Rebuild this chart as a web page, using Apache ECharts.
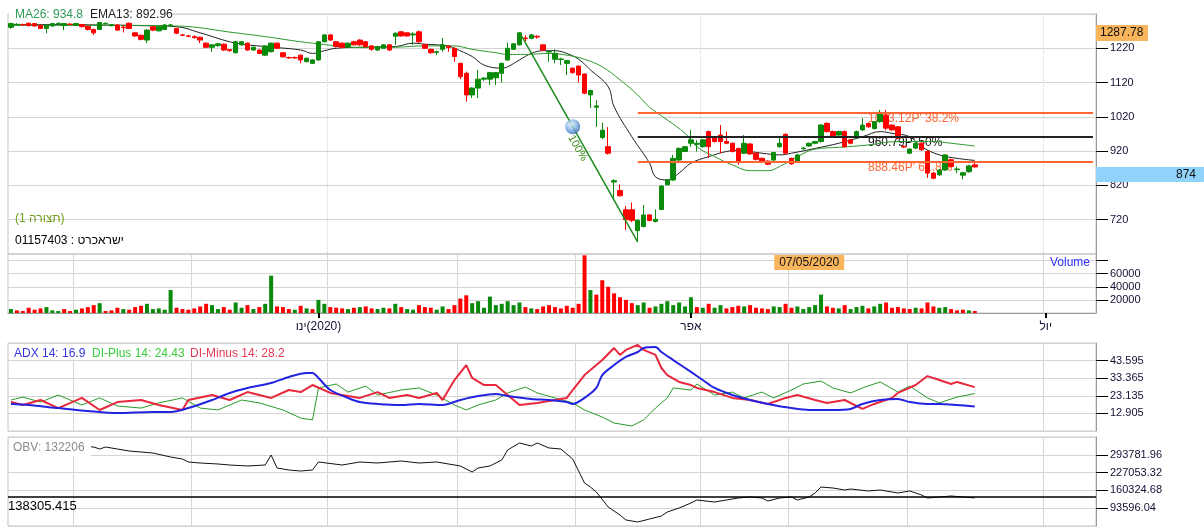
<!DOCTYPE html>
<html><head><meta charset="utf-8">
<script src="https://cdn.jsdelivr.net/npm/echarts/dist/echarts.min.js"></script>
<style>html,body{margin:0;padding:0;background:#fff}#c{width:1204px;height:530px}</style>
</head><body><div id="c"></div>
<script>
// ---------- data ----------
const SLOTS = 184;
const monthTickIdx = [52, 115, 175];
const monthTickHeb = ['ינו', 'אפר', 'יול'];
const monthTickYear = ['(2020)', '', ''];
const monthGridIdx = [11, 31, 54, 76, 96, 117, 132, 152, 175];
const quarterGridIdx = [54, 117, 175];
// [open, close, low, high]
const ohlc = [
[1281,1292,1277,1295],[1289,1290,1286,1293],[1289,1289,1285,1292],[1293,1286,1284,1295],[1292,1285,1283,1294],
[1287,1278,1276,1289],[1278,1287,1264,1289],[1285,1292,1283,1294],[1292,1293,1289,1295],[1286,1292,1273,1294],
[1290,1290,1287,1293],[1287,1292,1285,1294],[1289,1283,1281,1291],[1284,1275,1272,1286],[1275,1265,1259,1277],
[1275,1295,1273,1297],[1292,1293,1289,1295],[1286,1289,1284,1291],[1288,1273,1271,1290],[1282,1280,1266,1288],
[1293,1278,1276,1295],[1265,1256,1253,1267],[1258,1246,1243,1260],[1244,1273,1235,1276],[1283,1273,1270,1285],
[1271,1283,1269,1285],[1275,1288,1273,1290],[1287,1288,1284,1291],[1278,1264,1261,1280],[1259,1258,1255,1262],
[1256,1255,1252,1259],[1254,1251,1248,1258],[1252,1244,1235,1254],[1235,1223,1220,1237],[1223,1230,1210,1232],
[1228,1233,1224,1236],[1232,1215,1212,1234],[1216,1213,1210,1218],[1207,1239,1205,1242],[1230,1239,1228,1241],
[1235,1215,1213,1237],[1215,1223,1213,1225],[1215,1205,1203,1217],[1200,1227,1198,1229],[1210,1235,1208,1237],
[1235,1220,1218,1237],[1207,1195,1193,1209],[1193,1192,1189,1196],[1193,1192,1189,1196],[1200,1186,1176,1202],
[1181,1191,1179,1193],[1176,1186,1174,1188],[1186,1239,1184,1241],[1239,1259,1237,1261],[1259,1244,1242,1261],
[1239,1225,1222,1241],[1235,1223,1220,1237],[1225,1235,1222,1237],[1239,1230,1228,1242],[1244,1230,1227,1246],
[1239,1225,1222,1241],[1227,1217,1213,1229],[1215,1225,1212,1227],[1220,1230,1218,1232],[1230,1215,1212,1232],
[1255,1264,1230,1266],[1268,1256,1254,1270],[1265,1256,1254,1267],[1259,1262,1230,1267],[1268,1239,1236,1272],
[1230,1220,1218,1232],[1217,1207,1204,1219],[1208,1210,1200,1213],[1217,1230,1210,1250],[1226,1222,1210,1228],
[1220,1196,1181,1222],[1176,1137,1130,1178],[1147,1084,1064,1152],[1084,1104,1075,1106],[1104,1130,1075,1157],
[1130,1133,1125,1136],[1130,1149,1113,1151],[1134,1149,1113,1151],[1147,1176,1120,1178],[1186,1220,1183,1236],
[1217,1233,1215,1235],[1230,1265,1228,1267],[1250,1248,1240,1258],[1249,1259,1246,1262],[1255,1253,1248,1258],
[1230,1215,1212,1232],[1209,1211,1181,1213],[1188,1205,1176,1217],[1187,1189,1171,1192],[1176,1184,1142,1186],
[1162,1149,1146,1164],[1168,1142,1120,1170],[1145,1089,1086,1147],[1084,1097,1046,1099],[1048,1052,991,1069],
[960,981,955,1003],[933,914,910,990],[830,834,777,838],[805,790,787,823],[749,720,690,760],
[749,718,713,770],[688,718,656,722],[700,734,698,763],[734,718,715,736],[715,721,712,750],
[750,818,748,821],[822,836,820,838],[836,899,833,909],[894,928,890,931],[919,933,917,935],
[943,953,933,982],[940,943,919,952],[933,953,930,955],[977,933,900,980],[962,948,945,964],
[967,948,914,996],[948,943,940,977],[943,919,916,945],[928,889,880,930],[914,943,912,967],
[941,912,909,943],[914,896,893,916],[899,889,886,901],[891,882,879,893],[894,916,891,918],
[933,943,930,960],[969,914,911,972],[899,883,880,901],[890,909,887,912],[927,929,924,932],
[935,943,932,945],[943,948,940,950],[948,996,945,999],[1001,977,974,1004],[977,962,960,980],
[967,977,964,980],[977,933,930,980],[953,943,940,955],[958,977,955,980],[982,996,979,1016],
[1001,991,988,1003],[986,1006,983,1008],[1006,1032,1003,1040],[1025,987,981,1040],[996,982,979,998],
[991,958,955,993],[934,932,929,937],[914,926,911,928],[929,943,926,946],[943,924,921,946],
[919,856,842,922],[856,841,838,859],[851,865,848,868],[865,909,862,911],[895,875,872,898],
[866,868,856,875],[850,857,838,860],[860,877,857,880],[880,874,872,892]
];
const volume = [
6000,4000,3000,8000,5000,7000,9000,4000,3000,6000,3000,5000,7000,9000,12000,15000,3000,4000,8000,6000,5000,9000,11000,14000,6000,7000,
5000,35000,8000,6000,5000,7000,10000,14000,12000,6000,9000,5000,16000,8000,12000,6000,9000,14000,57000,10000,9000,6000,5000,11000,7000,6000,
20000,14000,9000,8000,7000,6000,8000,9000,10000,7000,6000,8000,7000,14000,9000,6000,5000,12000,9000,8000,5000,10000,6000,12000,22000,27000,
15000,18000,8000,25000,12000,14000,18000,12000,16000,9000,7000,6000,10000,12000,9000,7000,11000,8000,14000,88000,35000,28000,50000,40000,30000,24000,
20000,15000,12000,16000,8000,10000,14000,18000,12000,16000,10000,24000,9000,8000,14000,8000,12000,7000,9000,11000,10000,12000,8000,7000,6000,10000,
9000,14000,8000,10000,6000,9000,12000,28000,10000,8000,7000,12000,6000,9000,11000,7000,10000,14000,16000,8000,9000,7000,6000,8000,7000,16000,10000,8000,9000,6000,4000,5000,4000,3000
];
const ema13 = [[0,1288],[8,1289],[15,1288],[22,1286],[28,1283],[32,1265],[38,1235],[43,1225],[49,1215],[51,1205],[53,1213],[55,1220],[59,1223],
[65,1225],[68,1235],[70,1232],[74,1227],[75,1220],[78,1196],[80,1171],[83,1162],[84,1166],[86,1186],[88,1205],[90,1213],[92,1213],[94,1205],
[96,1188],[98,1157],[101,1108],[102,1050],[105,962],[108,885],[109,845],[111,836],[113,856],[115,885],[118,904],[121,919],[123,922],[127,914],
[130,909],[132,914],[136,928],[140,943],[144,962],[147,977],[149,972],[152,962],[154,933],[157,909],[160,899],[163,892.96]];
const ma26 = [[0,1287],[15,1287],[28,1285],[38,1265],[43,1254],[49,1239],[52,1233],[56,1225],[59,1222],[65,1223],[70,1227],[75,1227],[78,1217],
[82,1207],[84,1202],[87,1202],[91,1205],[94,1200],[97,1188],[100,1166],[103,1128],[106,1084],[108,1048],[111,1011],[114,972],[116,933],[119,904],
[122,880],[125,863],[128,863],[130,875],[133,904],[136,926],[140,931],[145,938],[150,948],[156,948],[159,943],[163,934.8]];
const adx = [[0,18.4],[3,17.8],[8,16.0],[13,14.3],[18,13.1],[24,13.7],[27,13.7],[30,16.0],[34,20.7],[37,24.8],[40,27.7],[44,30.6],[47,34.1],[50,36.4],
[51,36.4],[52,33.5],[54,26.5],[57,21.9],[59,19.5],[62,18.4],[66,17.8],[69,18.4],[73,17.8],[76,20.7],[79,23.0],[82,24.2],[84,23.0],[88,21.3],[91,20.7],
[94,19.5],[95,18.4],[97,21.9],[99,27.7],[100,35.2],[102,41.0],[104,45.7],[106,48.6],[107,50.9],[109,51.5],[110,48.6],[112,43.9],[115,37.0],[117,32.3],
[119,27.7],[122,23.6],[125,20.7],[128,18.4],[132,16.0],[135,14.9],[139,14.9],[142,15.5],[144,18.4],[147,20.7],[150,21.3],[152,19.5],[155,18.4],
[157,18.4],[160,17.8],[163,16.9]];
const diMinus = [[0,19.5],[2,17.8],[5,20.7],[8,16.0],[12,21.9],[15,14.9],[18,19.5],[22,20.7],[25,17.8],[29,14.9],[30,20.7],[34,23.6],[37,20.7],[40,25.3],
[44,21.9],[47,26.5],[49,25.3],[51,29.4],[54,24.8],[56,23.6],[59,21.9],[62,25.3],[64,21.9],[67,23.6],[69,21.9],[72,24.8],[73,20.7],[75,32.3],[77,41.0],
[78,33.5],[80,29.4],[82,29.4],[84,23.6],[86,17.8],[89,19.0],[92,20.7],[94,21.9],[95,26.5],[97,35.2],[99,41.0],[100,43.9],[102,50.9],[103,46.9],[104,49.8],
[106,52.7],[107,49.8],[109,46.9],[110,39.3],[111,35.2],[113,31.2],[115,29.4],[116,27.7],[119,25.3],[122,21.9],[125,20.7],[128,18.4],[131,21.9],[133,23.6],
[136,20.7],[138,19.0],[141,20.7],[144,15.5],[146,18.4],[149,21.9],[150,24.8],[153,29.4],[155,34.6],[157,32.3],[159,30.0],[160,31.2],[163,28.2]];
const diPlus = [[0,20.7],[2,22.4],[5,19.5],[8,23.6],[12,17.8],[15,21.9],[18,17.2],[22,16.0],[25,19.0],[29,21.9],[32,16.0],[35,14.9],[39,20.7],[42,19.0],
[46,14.9],[49,10.2],[51,9.1],[52,27.7],[55,30.0],[57,25.3],[60,28.8],[62,23.6],[66,26.5],[69,27.7],[72,23.6],[75,17.8],[77,14.9],[79,17.8],[82,20.7],
[84,24.8],[87,28.2],[89,24.8],[92,21.9],[95,19.0],[97,14.9],[100,10.8],[102,7.3],[105,5.6],[107,9.1],[109,16.0],[111,21.9],[112,27.7],[115,26.5],
[116,30.0],[119,23.6],[122,25.3],[124,21.9],[127,25.3],[129,21.9],[132,26.5],[134,30.0],[137,31.7],[139,27.7],[142,24.8],[144,27.7],[147,31.2],
[150,25.3],[152,28.8],[155,21.9],[157,19.0],[160,22.4],[163,24.43]];
const obv = [[0,341000],[14,323000],[15,315500],[16,323000],[18,315500],[20,308000],[24,300500],[27,285500],[29,278000],[30,266800],[32,263000],
[35,259300],[37,255500],[40,251800],[43,255500],[44,293000],[45,244300],[47,236800],[49,233000],[51,236800],[52,266800],[56,255500],[59,266800],
[62,263000],[66,270500],[69,263000],[72,266800],[76,251800],[78,229300],[79,244300],[81,251800],[83,274300],[84,311800],[86,338000],[88,326800],
[89,338000],[91,319300],[93,315500],[95,278000],[97,188000],[98,173000],[99,154300],[101,98100],[103,68100],[104,49400],[106,41900],[108,53100],
[110,64400],[111,79400],[113,94300],[115,113100],[116,124300],[119,116800],[121,124300],[123,131800],[125,135600],[127,131800],[128,120600],
[130,131800],[132,135600],[133,124300],[135,135600],[136,150600],[137,173000],[139,169300],[141,161800],[142,165600],[145,158100],[147,161800],
[150,150600],[152,158100],[154,143100],[155,131800],[157,135600],[159,139300],[161,135600],[163,132206]];
const obvRef = 138305.415;
const fibHigh = 1267.3, fibLow = 654.3, fibHighIdx = 86, fibLowIdx = 106;
const fibLevels = [[1033.12, "1033.12P' 38.2%", '#ff6633'], [960.79, "960.79P' 50%", '#222222'], [888.46, "888.46P' 61.8%", '#ff6633']];
const fibLabelIdx = 145;
const lastPrice = 874, topPrice = 1287.78;
const crossIdx = 135, crossLabel = '07/05/2020';
const sphereIdx = 95;
const adxTickLabels = ['12.905', '23.135', '33.365', '43.595'];

// ---------- chart ----------
const FONT = '"Liberation Sans", Arial, sans-serif';
const chart = echarts.init(document.getElementById('c'), null, { renderer: 'canvas' });
const cats = Array.from({ length: SLOTS }, (_, i) => String(i));
const L = 8, W = 1088;
const grids = [
  { left: L, top: 14, width: W, height: 240 },
  { left: L, top: 254, width: W, height: 59 },
  { left: L, top: 343, width: W, height: 88 },
  { left: L, top: 437, width: W, height: 89 }
].map(g => Object.assign(g, { show: true, borderColor: '#c4c4c4', borderWidth: 1, containLabel: false }));

const gridSet = new Set(monthGridIdx);
const qSet = new Set(quarterGridIdx);
function xAxisFor(i) {
  const base = {
    type: 'category', gridIndex: i, data: cats, boundaryGap: true,
    axisLine: { show: false }, axisTick: { show: false }, axisLabel: { show: false },
    splitLine: { show: true, interval: (idx) => (i === 0 ? qSet : gridSet).has(idx), lineStyle: { color: '#d6d6d6', width: 1, type: i === 0 ? 'dotted' : 'solid' } }
  };
  if (i === 1) {
    base.axisLine = { show: true, lineStyle: { color: '#9a9a9a' } };
    base.axisTick = { show: true, alignWithLabel: true, interval: (idx) => monthTickIdx.includes(idx), length: 5, lineStyle: { color: '#000', width: 2 } };
    base.axisLabel = { show: true, interval: (idx) => monthTickIdx.includes(idx),
      formatter: (v, idx) => { const k = monthTickIdx.indexOf(idx); if (k < 0) return ''; return '{h|' + monthTickHeb[k] + '}' + (monthTickYear[k] ? '{d|' + monthTickYear[k] + '}' : ''); },
      rich: { h: { color: '#111133', fontSize: 12, fontFamily: FONT }, d: { color: '#111133', fontSize: 12, fontFamily: FONT } },
      color: '#111133', fontSize: 12, fontFamily: FONT, margin: 8 };
  }
  return base;
}
function yAxisFor(i, o) {
  return Object.assign({
    type: 'value', gridIndex: i, position: 'right', scale: true,
    axisLine: { show: true, lineStyle: { color: '#9a9a9a' } },
    axisTick: { show: true, inside: false, length: 12, lineStyle: { color: '#000', width: 1 } },
    axisLabel: { color: '#111133', fontSize: 11, fontFamily: FONT, margin: 14, showMinLabel: false, showMaxLabel: false },
    splitLine: { show: true, lineStyle: { color: '#d4d4d4', width: 1 } }
  }, o);
}
const yAxes = [
  yAxisFor(0, { min: 620, max: 1320, interval: 100 }),
  yAxisFor(1, { min: 0, max: 90000, interval: 20000 }),
  yAxisFor(2, { min: 2.675, max: 53.825, interval: 10.23 }),
  yAxisFor(3, { min: 26867.4, max: 360510.6, interval: 66728.64 })
];
yAxes[0].axisLabel.formatter = v => (v > 620 && v < 1320) ? String(Math.round(v)) : '';
yAxes[1].axisLabel.formatter = v => (v >= 20000 && v <= 60000) ? String(v) : '';
yAxes[2].axisLabel.formatter = v => { let best = ''; adxTickLabels.forEach(s => { if (Math.abs(parseFloat(s) - v) < 0.02) best = s; }); return best; };
yAxes[3].axisLabel.formatter = v => (v > 30000 && v < 350000) ? (Math.round(v * 100) / 100).toFixed(2) : '';

const closes = ohlc.map(d => d[1]);
const volData = volume.map((v, i) => {
  const up = i === 0 ? ohlc[0][1] >= ohlc[0][0] : closes[i] >= closes[i - 1];
  return { value: v, itemStyle: { color: up ? '#0a8a0a' : '#ff0000' } };
});

const option = {
  animation: false,
  backgroundColor: '#ffffff',
  textStyle: { fontFamily: FONT },
  grid: grids,
  xAxis: [0, 1, 2, 3].map(xAxisFor),
  yAxis: yAxes,
  series: [
    {
      type: 'candlestick', xAxisIndex: 0, yAxisIndex: 0, data: ohlc, barWidth: 5, z: 3,
      itemStyle: { color: '#0a8a0a', color0: '#ff0000', borderColor: '#0a8a0a', borderColor0: '#ff0000', borderWidth: 1 },
      markLine: {
        silent: true, symbol: ['none', 'none'], label: { show: false }, animation: false,
        data: [
          [{ coord: [fibHighIdx, fibHigh], lineStyle: { color: '#1e8c1e', width: 1.5, type: 'solid' } }, { coord: [fibLowIdx, fibLow] }],
          ...fibLevels.map(f => [{ coord: [fibLowIdx, f[0]], lineStyle: { color: f[2], width: 2, type: 'solid' } }, { coord: [SLOTS - 1, f[0]] }])
        ]
      }
    },
    { type: 'line', xAxisIndex: 0, yAxisIndex: 0, data: ema13, smooth: 0.4, symbol: 'none', lineStyle: { color: '#222', width: 1 } },
    { type: 'line', xAxisIndex: 0, yAxisIndex: 0, data: ma26, smooth: 0.4, symbol: 'none', lineStyle: { color: '#2c9a2c', width: 1 } },
    {
      type: 'scatter', xAxisIndex: 0, yAxisIndex: 0, symbolSize: 15, z: 5,
      data: [[sphereIdx, fibHigh - (sphereIdx - fibHighIdx) / (fibLowIdx - fibHighIdx) * (fibHigh - fibLow)]],
      itemStyle: { color: { type: 'radial', x: 0.4, y: 0.35, r: 0.7, colorStops: [{ offset: 0, color: '#eaf4ff' }, { offset: 0.5, color: '#7fb2e6' }, { offset: 1, color: '#2f64a8' }] } }
    },
    { type: 'bar', xAxisIndex: 1, yAxisIndex: 1, data: volData, barWidth: 4 },
    { type: 'line', xAxisIndex: 2, yAxisIndex: 2, data: diPlus, symbol: 'none', lineStyle: { color: '#2a9a2a', width: 1 } },
    { type: 'line', xAxisIndex: 2, yAxisIndex: 2, data: diMinus, symbol: 'none', lineStyle: { color: '#e8283c', width: 2 } },
    { type: 'line', xAxisIndex: 2, yAxisIndex: 2, data: adx, smooth: 0.3, symbol: 'none', lineStyle: { color: '#2424e0', width: 2 } },
    {
      type: 'line', xAxisIndex: 3, yAxisIndex: 3, data: obv, symbol: 'none', lineStyle: { color: '#111', width: 1 },
      markLine: { silent: true, symbol: ['none', 'none'], label: { show: false }, lineStyle: { color: '#000', width: 1.5, type: 'solid' },
        data: [{ yAxis: obvRef }] }
    }
  ]
};
chart.setOption(option);

// ---------- overlay texts placed through the chart's scales ----------
const P = (g, x, y) => chart.convertToPixel({ gridIndex: g }, [x, y]);
const G = [];
function text(x, y, t, fill, size, extra, z) {
  G.push({ type: 'text', x, y, z: z == null ? 100 : z, style: Object.assign({ text: t, fill, font: `${size || 12}px ${FONT}`, textVerticalAlign: 'middle' }, extra || {}) });
}
function rect(x, y, w, h, fill) { G.push({ type: 'rect', z: 99, shape: { x, y, width: w, height: h }, style: { fill } }); }

// legends
rect(9, 8, 162, 13, '#fff');
text(15, 15, 'MA26: 934.8', '#2f9a5a', 12);
text(90, 15, 'EMA13: 892.96', '#222', 12);
{
  const f = `12px ${FONT}`, c = '#6f9e18';
  text(15, 219, '{a|(1 }{b|תצורה}{c|)}', c, 12, { rich: { a: { fill: c, font: f }, b: { fill: c, font: f }, c: { fill: c, font: f } } });
  const k = '#000';
  text(15, 241, '{a|01157403 : }{b|ישראכרט}', k, 12, { rich: { a: { fill: k, font: f }, b: { fill: k, font: f } } });
}
text(1090, 263, 'Volume', '#3030ff', 12, { textAlign: 'right' });
rect(9, 344, 285, 16, '#fff');
text(14, 354, 'ADX 14: 16.9', '#3535dd', 12);
text(92, 354, 'DI-Plus 14: 24.43', '#3ccc3c', 12);
text(190, 354, 'DI-Minus 14: 28.2', '#e33a55', 12);
rect(9, 438, 82, 18, '#fff');
text(13, 448, 'OBV: 132206', '#8a8a8a', 12);
text(8, 506, obvRef.toFixed(3), '#000', 13);

// fib level labels (top aligned at the level), drawn beneath the candles
fibLevels.forEach(f => {
  const p = P(0, fibLabelIdx, f[0]);
  text(868, p[1] + 6, f[1], f[2] === '#222222' ? '#111' : '#ff6633', 12, null, 1);
});
// trend label
{
  const p = P(0, sphereIdx + 1, 929);
  G.push({ type: 'text', x: p[0] - 1, y: p[1], rotation: -Math.PI / 3, z: 100,
    style: { text: '100%', fill: '#3c8c1c', font: `11px ${FONT}`, textAlign: 'center', textVerticalAlign: 'middle' } });
}
// price boxes on the axis
{
  const p = P(0, 0, topPrice);
  G.push({ type: 'rect', z: 99, shape: { x: 1096, y: p[1], width: 52, height: 16 }, style: { fill: '#f8b55c' } });
  text(1100, p[1] + 8, topPrice.toFixed(2), '#111', 12);
  const q = P(0, 0, lastPrice);
  G.push({ type: 'rect', z: 99, shape: { x: 1096, y: q[1], width: 108, height: 15 }, style: { fill: '#8fd3fb' } });
  text(1196, q[1] + 7.5, String(lastPrice), '#111', 12, { textAlign: 'right' });
}
// crosshair date label
{
  const p = P(1, crossIdx, 0);
  G.push({ type: 'rect', z: 99, shape: { x: p[0] - 35, y: 255, width: 70, height: 15 }, style: { fill: '#f8b55c' } });
  text(p[0], 262.5, crossLabel, '#111', 12, { textAlign: 'center' });
}
chart.setOption({ graphic: G });
</script></body></html>
